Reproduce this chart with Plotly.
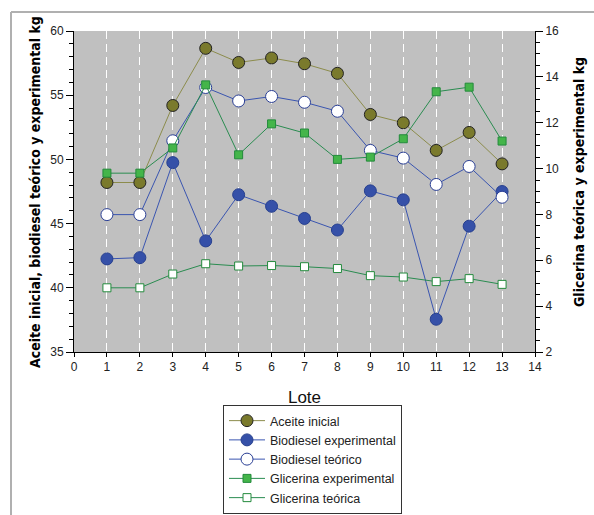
import plotly.graph_objects as go

lote = [1, 2, 3, 4, 5, 6, 7, 8, 9, 10, 11, 12, 13]
aceite_inicial = [48.2, 48.2, 54.2, 58.65, 57.55, 57.9, 57.45, 56.7, 53.5, 52.85, 50.7, 52.1, 49.65]
biodiesel_exp = [42.25, 42.35, 49.75, 43.65, 47.25, 46.35, 45.4, 44.5, 47.55, 46.85, 37.55, 44.8, 47.5]
biodiesel_teo = [45.7, 45.7, 51.45, 55.6, 54.55, 54.9, 54.45, 53.75, 50.7, 50.1, 48.05, 49.45, 47.05]
glicerina_exp = [9.8, 9.8, 10.9, 13.65, 10.6, 11.95, 11.55, 10.4, 10.5, 11.3, 13.35, 13.55, 11.2]
glicerina_teo = [4.8, 4.8, 5.4, 5.85, 5.75, 5.77, 5.72, 5.64, 5.33, 5.27, 5.07, 5.2, 4.95]

fig = go.Figure()

fig.add_trace(go.Scatter(
    x=lote, y=aceite_inicial, name="Aceite inicial", mode="lines+markers",
    line=dict(color="#8c8c4c", width=1),
    marker=dict(symbol="circle", size=12, color="#7a7a2c", line=dict(color="#222222", width=1)),
    yaxis="y"))
fig.add_trace(go.Scatter(
    x=lote, y=biodiesel_exp, name="Biodiesel experimental", mode="lines+markers",
    line=dict(color="#3a55b0", width=1),
    marker=dict(symbol="circle", size=12, color="#3550a8", line=dict(color="#27408f", width=1)),
    yaxis="y"))
fig.add_trace(go.Scatter(
    x=lote, y=biodiesel_teo, name="Biodiesel teórico", mode="lines+markers",
    line=dict(color="#3a55b0", width=1),
    marker=dict(symbol="circle", size=12, color="#ffffff", line=dict(color="#2a3f95", width=1)),
    yaxis="y"))
fig.add_trace(go.Scatter(
    x=lote, y=glicerina_exp, name="Glicerina experimental", mode="lines+markers",
    line=dict(color="#2a8c50", width=1),
    marker=dict(symbol="square", size=8, color="#44b54a", line=dict(color="#238a3c", width=1)),
    yaxis="y2"))
fig.add_trace(go.Scatter(
    x=lote, y=glicerina_teo, name="Glicerina teórica", mode="lines+markers",
    line=dict(color="#2a8c50", width=1),
    marker=dict(symbol="square", size=8, color="#ffffff", line=dict(color="#238a3c", width=1)),
    yaxis="y2"))

tickfont = dict(family="Arial, Liberation Sans, sans-serif", size=12, color="#222222")
titlefont = dict(family="DejaVu Sans Condensed, sans-serif", size=14, color="#000000")

fig.update_layout(
    width=594, height=515,
    margin=dict(l=74, r=59, t=31, b=163, autoexpand=False),
    paper_bgcolor="white",
    plot_bgcolor="#c0c0c0",
    showlegend=True,
    legend=dict(
        x=(223 - 74) / 461, y=(352 - 405) / 321, xanchor="left", yanchor="top",
        bordercolor="#333333", borderwidth=1, bgcolor="white",
        font=dict(family="Arial, Liberation Sans, sans-serif", size=12.5, color="#222222"),
        traceorder="normal", itemwidth=36,
    ),
    xaxis=dict(
        range=[0, 14], dtick=1, tick0=0,
        showgrid=True, gridcolor="white", gridwidth=1, griddash="8px,5px",
        zeroline=False,
        showline=True, linecolor="#000000", linewidth=1,
        ticks="outside", ticklen=4, tickcolor="#000000",
        tickfont=tickfont,
        title=dict(text="Lote", font=dict(family="Arial, Liberation Sans, sans-serif", size=17, color="#111111"), standoff=17),
    ),
    yaxis=dict(
        range=[35, 60], dtick=5, tick0=35,
        showgrid=False, zeroline=False,
        showline=True, linecolor="#000000", linewidth=1,
        ticks="outside", ticklen=7, tickcolor="#000000",
        minor=dict(dtick=1, ticks="outside", ticklen=4, tickcolor="#000000", showgrid=False),
        tickfont=tickfont,
    ),
    yaxis2=dict(
        range=[2, 16], dtick=2, tick0=2,
        overlaying="y", side="right",
        showgrid=False, zeroline=False,
        showline=True, linecolor="#000000", linewidth=1,
        ticks="outside", ticklen=7, tickcolor="#000000",
        minor=dict(dtick=0.5, ticks="outside", ticklen=4, tickcolor="#000000", showgrid=False),
        tickfont=tickfont,
    ),
    annotations=[
        dict(text="<b>Aceite inicial, biodiesel teórico y experimental kg</b>",
             xref="paper", yref="paper", x=(35 - 74) / 461, y=(352 - 192) / 321,
             xanchor="center", yanchor="middle", textangle=-90, showarrow=False,
             font=titlefont),
        dict(text="<b>Glicerina teórica y experimental kg</b>",
             xref="paper", yref="paper", x=(579 - 74) / 461, y=(352 - 182) / 321,
             xanchor="center", yanchor="middle", textangle=-90, showarrow=False,
             font=titlefont),
    ],
    shapes=[
        dict(type="line", xref="paper", yref="paper",
             x0=(11 - 74) / 461, x1=(594 - 74) / 461, y0=(352 - 12) / 321, y1=(352 - 12) / 321,
             line=dict(color="#b0b0b0", width=2)),
        dict(type="line", xref="paper", yref="paper",
             x0=(11 - 74) / 461, x1=(11 - 74) / 461, y0=(352 - 12) / 321, y1=(352 - 515) / 321,
             line=dict(color="#b0b0b0", width=2)),
    ],
)

fig.write_html("out.html", config={"displayModeBar": False},
               post_script="document.body.style.margin='0';document.body.style.overflow='hidden';")
